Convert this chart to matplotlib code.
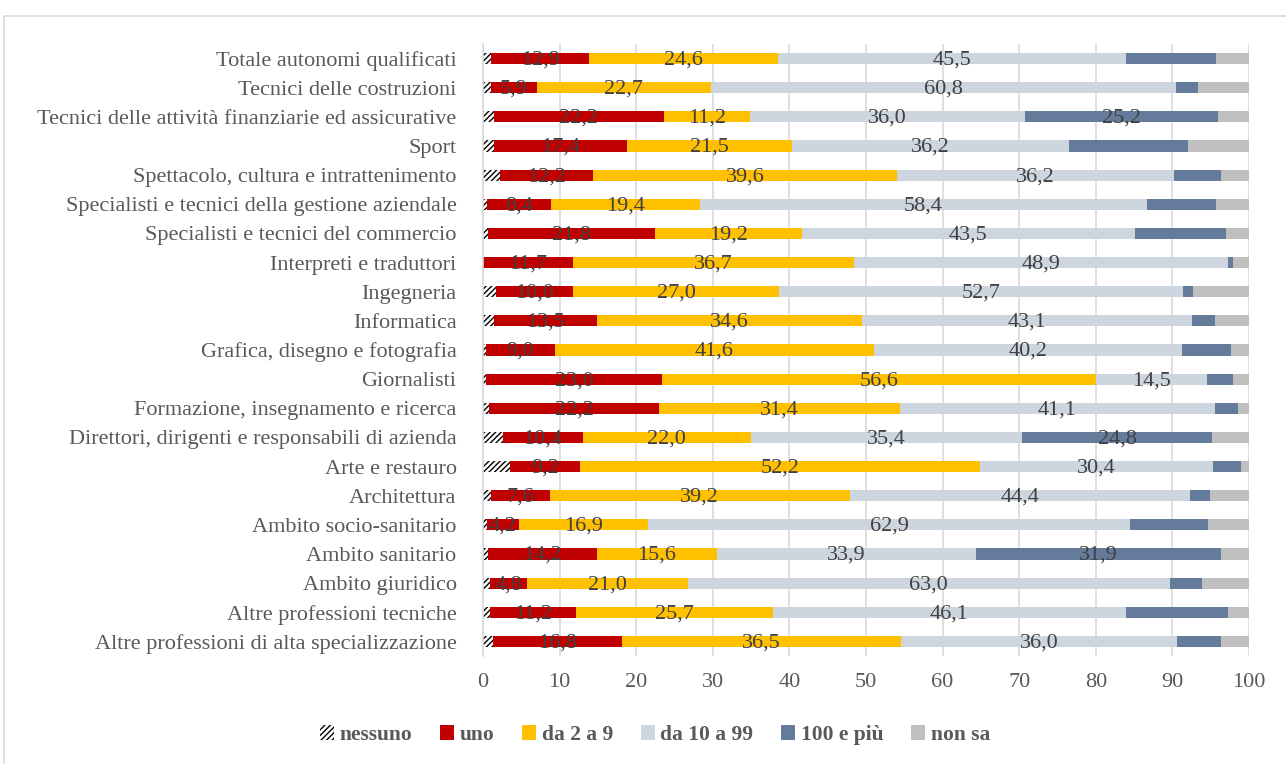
import numpy as np
import matplotlib
matplotlib.use("Agg")
import matplotlib.pyplot as plt
from matplotlib.patches import Rectangle

plt.rcParams['font.family'] = ['Liberation Serif', 'DejaVu Serif']
plt.rcParams['hatch.linewidth'] = 1.0

### ---Data (top to bottom)
categories = [
    "Totale autonomi qualificati",
    "Tecnici delle costruzioni",
    "Tecnici delle attività finanziarie ed assicurative",
    "Sport",
    "Spettacolo, cultura e intrattenimento",
    "Specialisti e tecnici della gestione aziendale",
    "Specialisti e tecnici del commercio",
    "Interpreti e traduttori",
    "Ingegneria",
    "Informatica",
    "Grafica, disegno e fotografia",
    "Giornalisti",
    "Formazione, insegnamento e ricerca",
    "Direttori, dirigenti e responsabili di azienda",
    "Arte e restauro",
    "Architettura",
    "Ambito socio-sanitario",
    "Ambito sanitario",
    "Ambito giuridico",
    "Altre professioni tecniche",
    "Altre professioni di alta specializzazione",
]

nessuno = [1.0, 1.1, 1.4, 1.4, 2.2, 0.5, 0.6, 0.0, 1.7, 1.4, 0.4, 0.4, 0.8, 2.6, 3.5, 1.1, 0.5, 0.7, 0.9, 0.9, 1.3]
uno     = [12.9, 5.9, 22.2, 17.4, 12.2, 8.4, 21.8, 11.7, 10.0, 13.5, 9.0, 23.0, 22.2, 10.4, 9.2, 7.6, 4.2, 14.2, 4.8, 11.2, 16.8]
da2a9   = [24.6, 22.7, 11.2, 21.5, 39.6, 19.4, 19.2, 36.7, 27.0, 34.6, 41.6, 56.6, 31.4, 22.0, 52.2, 39.2, 16.9, 15.6, 21.0, 25.7, 36.5]
da10a99 = [45.5, 60.8, 36.0, 36.2, 36.2, 58.4, 43.5, 48.9, 52.7, 43.1, 40.2, 14.5, 41.1, 35.4, 30.4, 44.4, 62.9, 33.9, 63.0, 46.1, 36.0]
cento   = [11.7, 2.8, 25.2, 15.5, 6.2, 9.0, 11.9, 0.6, 1.3, 2.9, 6.5, 3.4, 3.1, 24.8, 3.7, 2.6, 10.2, 31.9, 4.2, 13.4, 5.8]
non_sa  = [4.3, 6.7, 4.0, 8.0, 3.6, 4.3, 3.0, 2.1, 7.3, 4.5, 2.3, 2.1, 1.4, 4.8, 1.0, 5.1, 5.3, 3.7, 6.1, 2.7, 3.6]

series_names = ["nessuno", "uno", "da 2 a 9", "da 10 a 99", "100 e più", "non sa"]
series = [nessuno, uno, da2a9, da10a99, cento, non_sa]
colors = ["white", "#C00000", "#FFC000", "#CDD5DF", "#647B9B", "#BFBFBF"]
# which series get value labels, and from what size up
label_min = [None, 0, 0, 0, 20, None]

FS = 16

### ---Plot
fig = plt.figure(figsize=(12.86, 7.64), dpi=100)
fig.patches.append(Rectangle((4/1286, -0.01), 1.02, 1 - 16/764 + 0.01, transform=fig.transFigure,
                             fill=False, edgecolor="#D9D9D9", linewidth=1.2))

ax = fig.add_axes([483/1286, 1 - 656/764, (1249 - 483)/1286, (656 - 44)/764])

y = np.arange(len(categories))
left = np.zeros(len(categories))
for i, (name, vals, col) in enumerate(zip(series_names, series, colors)):
    vals = np.array(vals)
    if i == 0:
        ax.barh(y, vals, left=left, height=0.38, color=col, edgecolor="black",
                linewidth=0, hatch="//////", label=name)
    else:
        ax.barh(y, vals, left=left, height=0.38, color=col, linewidth=0, label=name)
    if label_min[i] is not None:
        for yy, l, v in zip(y, left, vals):
            if v >= label_min[i]:
                ax.text(l + v / 2, yy + 0.05, f"{v:.1f}".replace(".", ","), ha="center", va="center",
                        fontsize=FS, color="#404040")
    left += vals

ax.set_xlim(0, 100)
ax.set_ylim(len(categories) - 0.5, -0.5)
ax.set_xticks(np.arange(0, 101, 10))
ax.set_yticks(y)
ax.set_yticklabels(categories)
ax.xaxis.grid(True, color="#D9D9D9", linewidth=1.2)
ax.set_axisbelow(True)
for s in ["top", "right", "bottom"]:
    ax.spines[s].set_visible(False)
ax.spines["left"].set_color("#D9D9D9")
ax.spines["left"].set_linewidth(1.2)
ax.tick_params(axis="y", length=0, pad=19, labelsize=FS, labelcolor="#595959")
ax.tick_params(axis="x", length=0, pad=12, labelsize=FS, labelcolor="#595959")

leg = fig.legend(loc="center", bbox_to_anchor=(655/1286, 1 - 735/764), ncol=6, frameon=False,
                 handlelength=0.65, handleheight=0.65, handletextpad=0.25, columnspacing=1.3,
                 prop={"size": FS - 0.5, "weight": "bold"})
for t in leg.get_texts():
    t.set_color("#595959")

plt.savefig("out.png", dpi=100)
